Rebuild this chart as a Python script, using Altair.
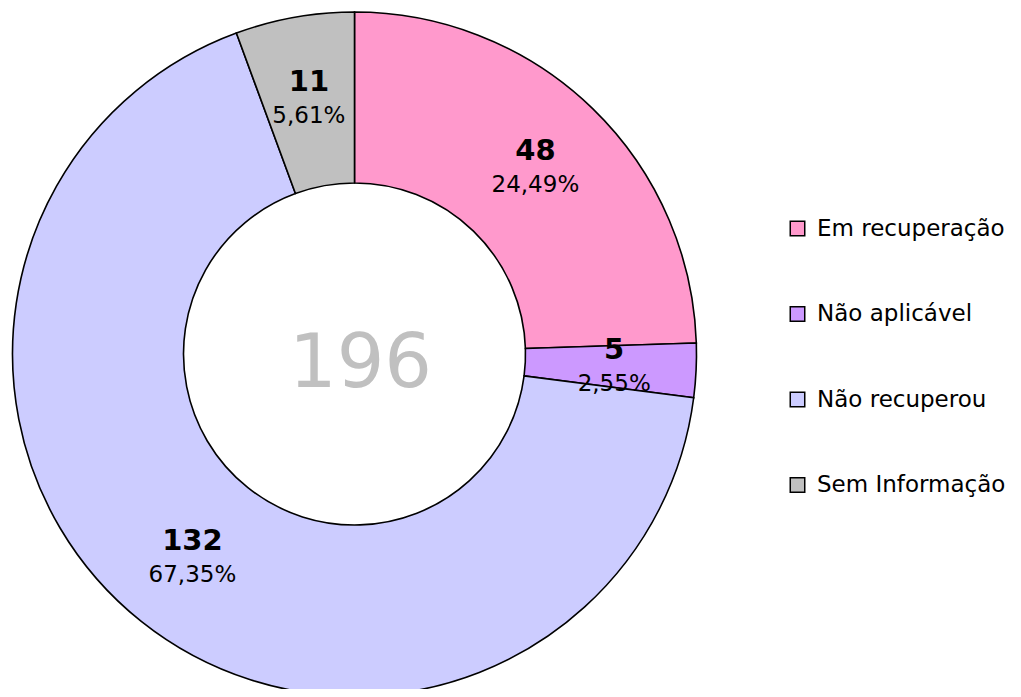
import altair as alt
import pandas as pd

categories = ["Em recuperação", "Não aplicável", "Não recuperou", "Sem Informação"]
counts = [48, 5, 132, 11]
colors = ["#FF99CC", "#CC99FF", "#CCCCFF", "#C0C0C0"]

total = sum(counts)
pct = [f"{c / total * 100:.2f}".replace(".", ",") + "%" for c in counts]

df = pd.DataFrame({
    "categoria": categories,
    "n": counts,
    "pct": pct,
    "ordem": list(range(len(categories))),
})

CX, CY = 346.5, 346

base = alt.Chart(df).encode(
    theta=alt.Theta("n:Q", stack=True),
    order=alt.Order("ordem:Q"),
    x=alt.value(CX),
    y=alt.value(CY),
)

arcs = base.mark_arc(outerRadius=342, innerRadius=171, stroke="black", strokeWidth=1.6).encode(
    color=alt.Color(
        "categoria:N",
        scale=alt.Scale(domain=categories, range=colors),
        sort=categories,
        legend=alt.Legend(
            title=None,
            orient="none",
            legendX=778,
            legendY=209,
            symbolType="square",
            symbolSize=210,
            symbolStrokeColor="black",
            symbolStrokeWidth=1.5,
            symbolOpacity=1,
            labelFont="DejaVu Sans",
            labelFontSize=23,
            labelColor="black",
            labelOffset=8,
            rowPadding=61.5,
            labelLimit=400,
        ),
    )
)

num_text = base.mark_text(
    radius=260, dy=-16, font="DejaVu Sans", fontSize=29, fontWeight="bold", color="black"
).encode(text="n:Q")

pct_text = base.mark_text(
    radius=260, dy=18, font="DejaVu Sans", fontSize=23, color="black"
).encode(text="pct:N")

center = alt.Chart(pd.DataFrame({"total": [total]})).mark_text(
    font="DejaVu Sans", fontSize=75, color="#C0C0C0", baseline="middle", align="center", dx=6
).encode(x=alt.value(CX), y=alt.value(CY + 10), text="total:Q")

chart = alt.layer(arcs, num_text, pct_text, center).properties(
    width=1005, height=681, padding=0, autosize=alt.AutoSizeParams(type="none")
).configure_view(stroke=None)

chart.save("out.html", embed_options={"renderer": "svg", "actions": False})
